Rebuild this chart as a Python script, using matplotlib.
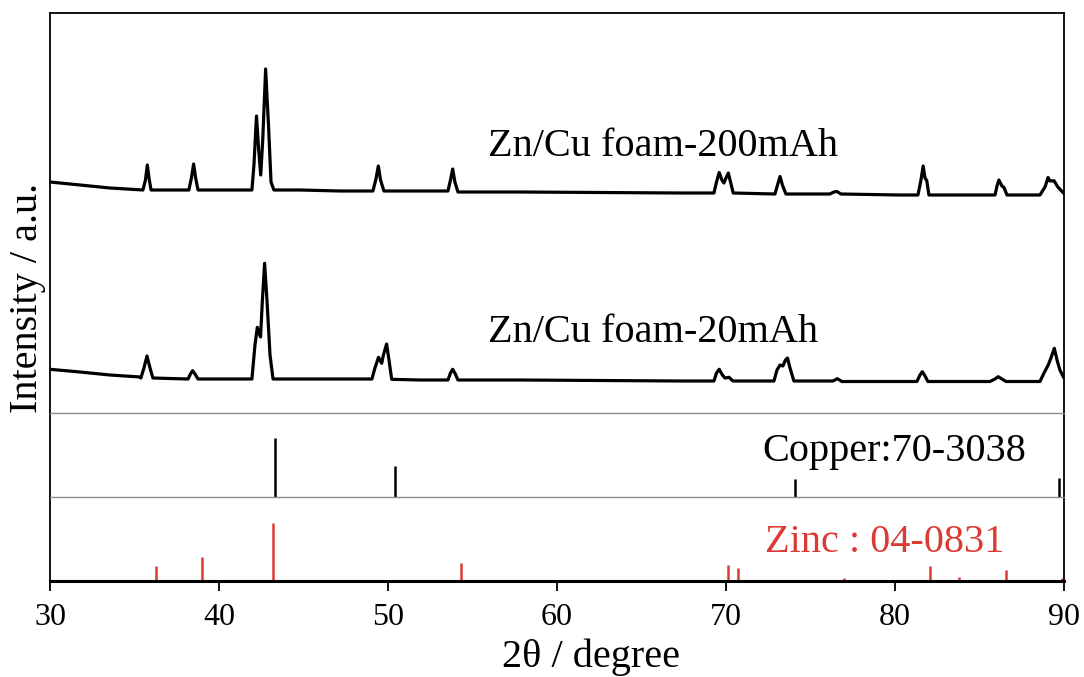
import numpy as np
import matplotlib
matplotlib.use('Agg')
import matplotlib.pyplot as plt

plt.rcParams['font.family'] = ['Liberation Serif', 'Noto Sans CJK SC', 'DejaVu Sans']

# %% data (2theta in degree, intensity in a.u.)
x_200 = [30.00, 31.78, 33.55, 35.03, 35.50, 35.65, 35.76, 35.86, 35.98, 37.10,
         38.22, 38.37, 38.50, 38.62, 38.76, 40.65, 41.95, 42.07, 42.22, 42.35,
         42.47, 42.59, 42.76, 42.93, 43.08, 43.25, 44.79, 47.16, 49.11, 49.29,
         49.43, 49.56, 49.76, 51.89, 53.55, 53.70, 53.83, 53.96, 54.14, 57.81,
         62.54, 67.28, 69.29, 69.44, 69.60, 69.76, 69.88, 70.00, 70.14, 70.27,
         70.43, 72.90, 73.05, 73.20, 73.34, 73.55, 76.15, 76.39, 76.57, 76.80,
         80.30, 81.36, 81.54, 81.67, 81.78, 81.88, 82.01, 84.44, 85.92, 86.04,
         86.15, 86.33, 86.45, 86.63, 88.58, 88.88, 89.06, 89.17, 89.41, 89.64,
         89.97]
y_200 = [231, 228, 225, 223.5, 223, 233, 248, 235, 223, 223,
         223, 235, 249, 235, 223, 223, 223, 248, 297, 263,
         238, 273, 344, 288, 231, 223, 223, 222, 222, 234,
         247, 233, 222, 222, 222, 233, 244, 231, 221, 221,
         220.5, 220, 220, 231, 240.5, 233, 230, 235, 240, 231,
         220, 219, 228, 236.5, 228, 219, 219, 221, 221.5, 219,
         218, 218, 233, 247, 235, 232.5, 218, 218, 218, 227,
         233, 227, 225.5, 218, 218, 226, 235.5, 232, 232.3, 226,
         220]

x_20 = [30.00, 31.78, 33.55, 35.33, 35.38, 35.56, 35.74, 35.92, 36.09, 37.10,
        38.17, 38.31, 38.44, 38.58, 38.76, 40.65, 41.95, 42.13, 42.27, 42.37,
        42.46, 42.57, 42.70, 42.84, 43.02, 43.20, 44.79, 47.16, 49.05, 49.23,
        49.44, 49.63, 49.73, 49.92, 50.06, 50.22, 51.89, 53.55, 53.70, 53.83,
        53.96, 54.14, 57.81, 62.54, 67.28, 69.29, 69.44, 69.60, 69.79, 69.94,
        70.18, 70.41, 72.84, 73.02, 73.20, 73.37, 73.52, 73.64, 73.79, 74.02,
        76.33, 76.59, 76.86, 80.30, 81.30, 81.48, 81.62, 81.78, 81.95, 85.62,
        85.92, 86.11, 86.33, 86.57, 88.58, 88.82, 89.07, 89.23, 89.43, 89.59,
        89.76, 89.97]
y_20 = [43.7, 41, 38, 36, 35, 45, 57, 45, 35, 34.5,
        34, 39, 42.3, 39, 34, 34, 34, 68, 85.7, 80,
        76, 113, 149.7, 113, 58, 34, 34, 34, 34, 45,
        55.7, 49.7, 58, 69, 53, 33.7, 33, 33, 40, 43.7,
        40, 33, 33, 32.5, 32, 32, 40, 43.7, 38, 35,
        35.7, 32, 32, 43, 48, 47, 53, 55, 45, 32,
        32, 34.3, 31.5, 31.5, 31.5, 38, 41.3, 37, 31.5, 31.5,
        34, 36.3, 34, 31.5, 31.5, 40, 48, 55, 64.7, 53,
        43, 36]

# reference patterns
cu_pos = [43.3, 50.4, 74.1, 89.7]
cu_int = [0.70, 0.37, 0.22, 0.23]
zn_pos = [36.3, 39.0, 43.2, 54.3, 70.1, 70.7, 77.0, 82.1, 83.8, 86.6, 89.9]
zn_int = [0.18, 0.29, 0.69, 0.21, 0.19, 0.16, 0.03, 0.18, 0.05, 0.13, 0.04]

labels = ['Zn/Cu foam-200mAh', 'Zn/Cu foam-20mAh']
cu_label = 'Copper:70-3038'
zn_label = 'Zinc : 04-0831'

red = '#dc3b35'
grey = '#8c8c8c'

# %% figure
fig = plt.figure(figsize=(10.84, 6.77), dpi=100)
gs = fig.add_gridspec(3, 1, height_ratios=[400, 84, 84], hspace=0,
                      left=0.0461, right=0.9815, top=0.9808, bottom=0.1418)
ax1 = fig.add_subplot(gs[0])
ax2 = fig.add_subplot(gs[1], sharex=ax1)
ax3 = fig.add_subplot(gs[2], sharex=ax1)

ax1.plot(x_200, y_200, color='black', lw=2.3)
ax1.plot(x_20, y_20, color='black', lw=2.3)
ax1.set_ylim(0, 400)
ax1.text(55.92, 257, labels[0], fontsize=29, va='baseline')
ax1.text(55.92, 71, labels[1], fontsize=29, va='baseline')

ax2.vlines(cu_pos, 0, cu_int, color='black', lw=1.8)
ax2.set_ylim(0, 1)
ax2.text(72.13, 0.43, cu_label, fontsize=29, va='baseline')

ax3.vlines(zn_pos, 0, zn_int, color=red, lw=1.8)
ax3.set_ylim(0, 1)
ax3.text(72.3, 0.345, zn_label, fontsize=29, va='baseline', color=red)

ax3.set_xlim(30, 90)
ax3.set_xticks(np.arange(30, 91, 10))

for ax in (ax1, ax2, ax3):
    ax.set_yticks([])
    for s in ax.spines.values():
        s.set_linewidth(1.3)
        s.set_color('black')
ax1.spines['bottom'].set_visible(False)
ax2.spines['top'].set_color(grey)
ax2.spines['top'].set_linewidth(1.0)
ax2.spines['bottom'].set_visible(False)
ax3.spines['top'].set_color(grey)
ax3.spines['top'].set_linewidth(1.0)
ax3.spines['bottom'].set_linewidth(2.2)

ax1.tick_params(axis='x', bottom=False, labelbottom=False)
ax2.tick_params(axis='x', bottom=False, labelbottom=False)
ax3.tick_params(axis='x', direction='out', length=7, width=1.3,
                pad=9, labelsize=23)

fig.text(28 / 1084, 0.5606, 'Intensity / a.u.', rotation=90,
         fontsize=29, ha='center', va='center')
fig.text(591 / 1084, 0.0295, '2\u03b8 / degree', fontsize=29,
         ha='center', va='center')

plt.savefig('out.png', dpi=100)
